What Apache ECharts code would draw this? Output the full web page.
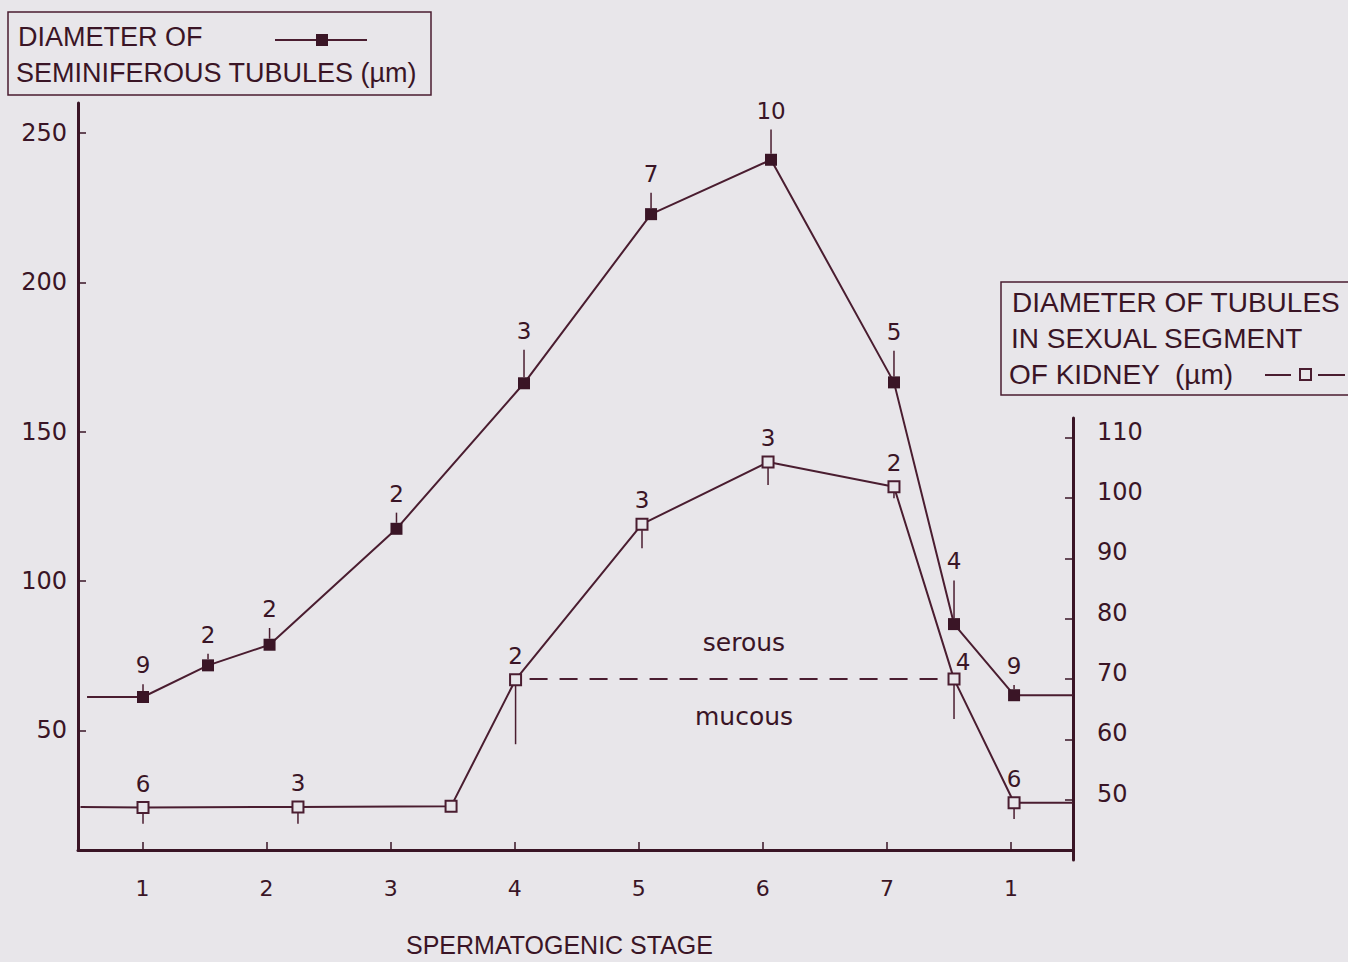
<!DOCTYPE html>
<html>
<head>
<meta charset="utf-8">
<script src="https://cdn.jsdelivr.net/npm/echarts@6/dist/echarts.min.js"></script>
<style>
  html, body { margin: 0; padding: 0; background: #e8e6ea; }
  #chart { width: 1348px; height: 962px; }
</style>
</head>
<body>
<div id="chart"></div>
<script>
// ---- data ----
const stageTicks = [1, 2, 3, 4, 5, 6, 7, 8];
const stageLabels = ['1', '2', '3', '4', '5', '6', '7', '1'];
const leftTicks = [50, 100, 150, 200, 250];
const rightTicks = [50, 60, 70, 80, 90, 100, 110];

// Seminiferous tubules (left axis, µm)
const stageSemi = [1.004, 1.528, 2.024, 3.047, 4.075, 5.099, 6.066, 7.057, 7.541, 8.025];
const semiDiameter = [61.2, 71.8, 78.7, 117.5, 166.2, 222.8, 241.0, 166.5, 85.6, 61.8];
const semiSE = [4.3, 3.9, 5.6, 5.4, 11.2, 7.2, 10.1, 10.6, 14.6, 3.4];
const semiN = [9, 2, 2, 2, 3, 7, 10, 5, 4, 9];
const semiEnds = [[0.553, 61.2], [8.5, 61.8]];

// Kidney sexual segment tubules (right axis, µm)
const stageKid = [1.004, 2.253, 3.487, 4.007, 5.026, 6.042, 7.057, 7.541, 8.025];
const kidDiameter = [48.7, 48.8, 48.9, 69.9, 95.7, 106.0, 101.9, 70.0, 49.5];
const kidSE = [2.7, 2.8, 0, 10.7, 4.0, 3.8, 1.9, 6.6, 2.7];
const kidN = [6, 3, null, 2, 3, 3, 2, 4, 6];
const kidEnds = [[0.5, 48.8], [8.5, 49.5]];

// serous / mucous boundary
const boundaryValue = 70;
const boundaryStages = [stageKid[3], stageKid[7]];

// ---- styling ----
const ink = '#3a1526';
const lineInk = '#4a1d30';
const bg = '#e8e6ea';
const numFont = 'DejaVu Sans';
const txtFont = 'Liberation Sans';

const chart = echarts.init(document.getElementById('chart'), null, { renderer: 'svg' });

const semiLine = [{ value: semiEnds[0], symbol: 'none' }]
  .concat(stageSemi.map((x, i) => [x, semiDiameter[i]]))
  .concat([{ value: semiEnds[1], symbol: 'none' }]);
const kidLine = [{ value: kidEnds[0], symbol: 'none' }]
  .concat(stageKid.map((x, i) => [x, kidDiameter[i]]))
  .concat([{ value: kidEnds[1], symbol: 'none' }]);

const semiErr = stageSemi.map((x, i) => [x, semiDiameter[i], semiSE[i], semiN[i]]);
const kidErr = stageKid.map((x, i) => [x, kidDiameter[i], kidSE[i], kidN[i] == null ? -1 : kidN[i]]);

function semiErrRender(params, api) {
  const x = api.value(0), y = api.value(1), e = api.value(2), n = api.value(3);
  const p = api.coord([x, y]);
  const q = api.coord([x, y + e]);
  return {
    type: 'group',
    children: [
      { type: 'line', shape: { x1: p[0], y1: p[1] - 6, x2: q[0], y2: q[1] },
        style: { stroke: lineInk, lineWidth: 1.5 } },
      { type: 'text', style: { text: String(n), x: q[0], y: q[1] - 19, align: 'center',
        verticalAlign: 'middle', font: '23px "' + numFont + '"', fill: ink } }
    ]
  };
}

function kidErrRender(params, api) {
  const x = api.value(0), y = api.value(1), e = api.value(2), n = api.value(3);
  const p = api.coord([x, y]);
  const q = api.coord([x, y - e]);
  const children = [];
  if (e > 0) {
    children.push({ type: 'line', shape: { x1: p[0], y1: p[1] + 6, x2: q[0], y2: q[1] },
      style: { stroke: lineInk, lineWidth: 1.5 } });
  }
  if (n >= 0) {
    // the label next to the crossing of both curves sits to the right in the original
    const dx = params.dataIndex === 7 ? 9 : 0;
    const dy = params.dataIndex === 7 ? -17 : -24;
    children.push({ type: 'text', style: { text: String(n), x: p[0] + dx, y: p[1] + dy, align: 'center',
      verticalAlign: 'middle', font: '23px "' + numFont + '"', fill: ink } });
  }
  return { type: 'group', children };
}

const option = {
  backgroundColor: bg,
  animation: false,
  grid: [
    { left: 78, right: 275, top: 103, bottom: 102 },
    { left: 78, right: 275, top: 418, bottom: 102 }
  ],
  xAxis: [
    {
      gridIndex: 0, type: 'value', min: 0.48, max: 8.5,
      axisLine: { show: true, onZero: false, lineStyle: { color: ink, width: 3 } },
      axisTick: { show: true, inside: true, length: 8, customValues: stageTicks, lineStyle: { color: ink, width: 1.5 } },
      axisLabel: { customValues: stageTicks, formatter: v => stageLabels[stageTicks.indexOf(v)],
        margin: 27, fontSize: 22, fontFamily: numFont, color: ink },
      splitLine: { show: false },
      name: 'SPERMATOGENIC STAGE', nameLocation: 'middle', nameGap: 82,
      nameTextStyle: { fontSize: 25, fontFamily: txtFont, color: ink, padding: [0, 32, 0, 0] }
    },
    { gridIndex: 1, type: 'value', min: 0.48, max: 8.5, show: false }
  ],
  yAxis: [
    {
      gridIndex: 0, type: 'value', min: 10, max: 260, position: 'left',
      axisLine: { show: true, onZero: false, lineStyle: { color: ink, width: 3 } },
      axisTick: { show: true, inside: true, length: 8, customValues: leftTicks, lineStyle: { color: ink, width: 1.5 } },
      axisLabel: { customValues: leftTicks, margin: 11, fontSize: 24, fontFamily: numFont, color: ink },
      splitLine: { show: false }
    },
    {
      gridIndex: 1, type: 'value', min: 40, max: 113.3, position: 'right',
      axisLine: { show: true, onZero: false, lineStyle: { color: ink, width: 3 } },
      axisTick: { show: true, inside: true, length: 8, customValues: rightTicks, lineStyle: { color: ink, width: 1.5 } },
      axisLabel: { customValues: rightTicks, margin: 24, color: ink,
        formatter: v => '{t|' + v + '}',
        rich: { t: { fontSize: 24, fontFamily: numFont, color: ink, padding: [0, 0, 12, 0] } } },
      splitLine: { show: false }
    }
  ],
  series: [
    {
      name: 'boundary', type: 'line', xAxisIndex: 1, yAxisIndex: 1, z: 1,
      data: boundaryStages.map(x => [x, boundaryValue]), symbol: 'none',
      lineStyle: { color: lineInk, width: 2, type: [18, 12], dashOffset: -14 }
    },
    {
      name: 'kidney', type: 'line', xAxisIndex: 1, yAxisIndex: 1, z: 3,
      data: kidLine, symbol: 'rect', symbolSize: 11,
      itemStyle: { color: bg, borderColor: lineInk, borderWidth: 2 },
      lineStyle: { color: lineInk, width: 2 }
    },
    {
      name: 'seminiferous', type: 'line', xAxisIndex: 0, yAxisIndex: 0, z: 4,
      data: semiLine, symbol: 'rect', symbolSize: 12,
      itemStyle: { color: ink },
      lineStyle: { color: lineInk, width: 2 }
    },
    { type: 'custom', xAxisIndex: 0, yAxisIndex: 0, z: 2, data: semiErr, renderItem: semiErrRender, clip: false },
    { type: 'custom', xAxisIndex: 1, yAxisIndex: 1, z: 2, data: kidErr, renderItem: kidErrRender, clip: false }
  ],
  graphic: [
    // legend box: seminiferous tubules
    { type: 'rect', shape: { x: 8, y: 12, width: 423, height: 83 }, style: { fill: 'none', stroke: lineInk, lineWidth: 1.5 } },
    { type: 'text', style: { text: 'DIAMETER OF', x: 18, y: 37, verticalAlign: 'middle', font: '27px "' + txtFont + '"', fill: ink } },
    { type: 'text', style: { text: 'SEMINIFEROUS TUBULES (µm)', x: 16, y: 73, verticalAlign: 'middle', font: '27px "' + txtFont + '"', fill: ink } },
    { type: 'line', shape: { x1: 275, y1: 40, x2: 367, y2: 40 }, style: { stroke: lineInk, lineWidth: 2 } },
    { type: 'rect', shape: { x: 316, y: 34, width: 12, height: 12 }, style: { fill: ink } },
    // legend box: kidney tubules
    { type: 'rect', shape: { x: 1001, y: 282, width: 352, height: 113 }, style: { fill: 'none', stroke: lineInk, lineWidth: 1.5 } },
    { type: 'text', style: { text: 'DIAMETER OF TUBULES', x: 1012, y: 302, verticalAlign: 'middle', font: '28px "' + txtFont + '"', fill: ink } },
    { type: 'text', style: { text: 'IN SEXUAL SEGMENT', x: 1011, y: 338, verticalAlign: 'middle', font: '28px "' + txtFont + '"', fill: ink } },
    { type: 'text', style: { text: 'OF KIDNEY  (µm)', x: 1009, y: 374, verticalAlign: 'middle', font: '28px "' + txtFont + '"', fill: ink } },
    { type: 'line', shape: { x1: 1265, y1: 375, x2: 1291, y2: 375 }, style: { stroke: lineInk, lineWidth: 2 } },
    { type: 'rect', shape: { x: 1300, y: 369, width: 11, height: 11 }, style: { fill: bg, stroke: lineInk, lineWidth: 2 } },
    { type: 'line', shape: { x1: 1318, y1: 375, x2: 1345, y2: 375 }, style: { stroke: lineInk, lineWidth: 2 } },
    // region annotations
    { type: 'text', style: { text: 'serous', x: 744, y: 642, align: 'center', verticalAlign: 'middle', font: '25px "' + numFont + '"', fill: ink } },
    { type: 'text', style: { text: 'mucous', x: 744, y: 716, align: 'center', verticalAlign: 'middle', font: '25px "' + numFont + '"', fill: ink } }
  ]
};

chart.setOption(option);
</script>
</body>
</html>
